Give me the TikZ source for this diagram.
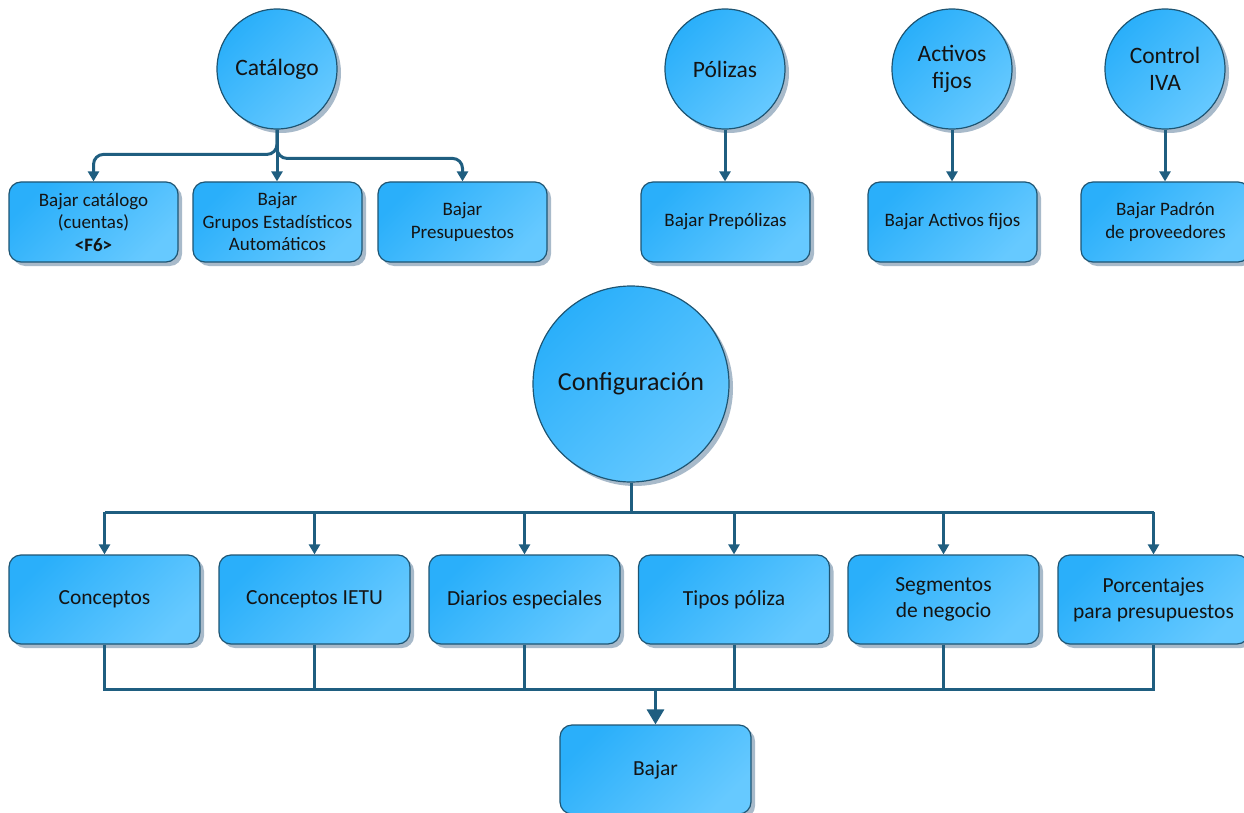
\documentclass[tikz,border=0pt]{standalone}
\usepackage{fontspec}
\setmainfont{Carlito}
\usetikzlibrary{arrows.meta,shadows,calc}
\definecolor{fillA}{HTML}{2AAFFA}
\definecolor{fillB}{HTML}{66C9FF}
\definecolor{edgecol}{HTML}{1E5573}
\definecolor{conncol}{HTML}{1F5E80}
\definecolor{shad}{HTML}{A8BACA}
\definecolor{txt}{HTML}{141414}
\tikzset{
 shapebase/.style={draw=edgecol, line width=1.2pt, top color=fillA, bottom color=fillB, shading angle=45,
   drop shadow={shadow xshift=4pt, shadow yshift=-4pt, fill=shad, opacity=1},
   text=txt, align=center, inner sep=0pt},
 circ/.style={shapebase, circle, minimum size=120pt, font=\fontsize{23.5}{27}\selectfont},
 bigcirc/.style={shapebase, circle, minimum size=196pt, font=\fontsize{26}{30}\selectfont},
 sbox/.style={shapebase, rounded corners=12pt, minimum width=169pt, minimum height=80pt, font=\fontsize{19}{22.5}\selectfont},
 lbox/.style={shapebase, rounded corners=12pt, minimum width=191pt, minimum height=89pt, font=\fontsize{21.5}{26}\selectfont},
 wire/.style={draw=conncol, line width=3pt},
 conn/.style={wire, -{Triangle[length=10pt,width=11pt]}},
 bigconn/.style={wire, -{Triangle[length=15pt,width=17pt]}},
}
\begin{document}
\begin{tikzpicture}[x=1pt,y=-1pt]
\useasboundingbox (0,0) rectangle (1244,813);
% top circles
\node[circ] (cat) at (277,69) {Catálogo};
\node[circ] (pol) at (725,69) {Pólizas};
\node[circ] (act) at (952,69) {Activos\\fijos};
\node[circ] (iva) at (1165,69) {Control\\IVA};
% top boxes
\node[sbox] (b1) at (93.5,222) {Bajar catálogo\\(cuentas)\\\textbf{<F6>}};
\node[sbox] (b2) at (277.5,222) {Bajar\\Grupos Estadísticos\\Automáticos};
\node[sbox] (b3) at (462.5,222) {Bajar\\Presupuestos};
\node[sbox] (b4) at (725.5,222) {Bajar Prepólizas};
\node[sbox] (b5) at (952.5,222) {Bajar Activos fijos};
\node[sbox] (b6) at (1165.5,222) {Bajar Padrón\\de proveedores};
% configuration
\node[bigcirc] (cfg) at (631,384) {Configuración};
\node[lbox] (c1) at (104.5,599.5) {Conceptos};
\node[lbox] (c2) at (314.5,599.5) {Conceptos IETU};
\node[lbox] (c3) at (524.5,599.5) {Diarios especiales};
\node[lbox] (c4) at (734,599.5) {Tipos póliza};
\node[lbox] (c5) at (943.5,599.5) {Segmentos\\de negocio};
\node[lbox] (c6) at (1153.5,599.5) {Porcentajes\\para presupuestos};
\node[lbox] (baj) at (655.5,769.5) {Bajar};
% catalogo connectors
\draw[conn, rounded corners=10pt] (cat.south) |- ([yshift=27pt]b1.north) -- (b1.north);
\draw[conn, rounded corners=10pt] (cat.south) |- ([yshift=23pt]b3.north) -- (b3.north);
\draw[conn] (cat.south) -- (cat.south |- b2.north);
\draw[conn] (pol.south) -- (pol.south |- b4.north);
\draw[conn] (act.south) -- (act.south |- b5.north);
\draw[conn] (iva.south) -- (iva.south |- b6.north);
% configuration bus
\coordinate (bus1) at (631,512);
\coordinate (bus2) at (655.5,689);
\draw[wire] (cfg.south) -- (bus1);
\draw[wire] (c1.north |- bus1) -- (c6.north |- bus1);
\foreach \n in {c1,c2,c3,c4,c5,c6}{
  \draw[conn] (\n.north |- bus1) -- (\n.north);
}
\draw[wire] (c1.south) -- (c1.south |- bus2) -- (c6.south |- bus2) -- (c6.south);
\foreach \n in {c2,c3,c4,c5}{
  \draw[wire] (\n.south) -- (\n.south |- bus2);
}
\draw[bigconn] (bus2) -- (baj.north);
\end{tikzpicture}
\end{document}
